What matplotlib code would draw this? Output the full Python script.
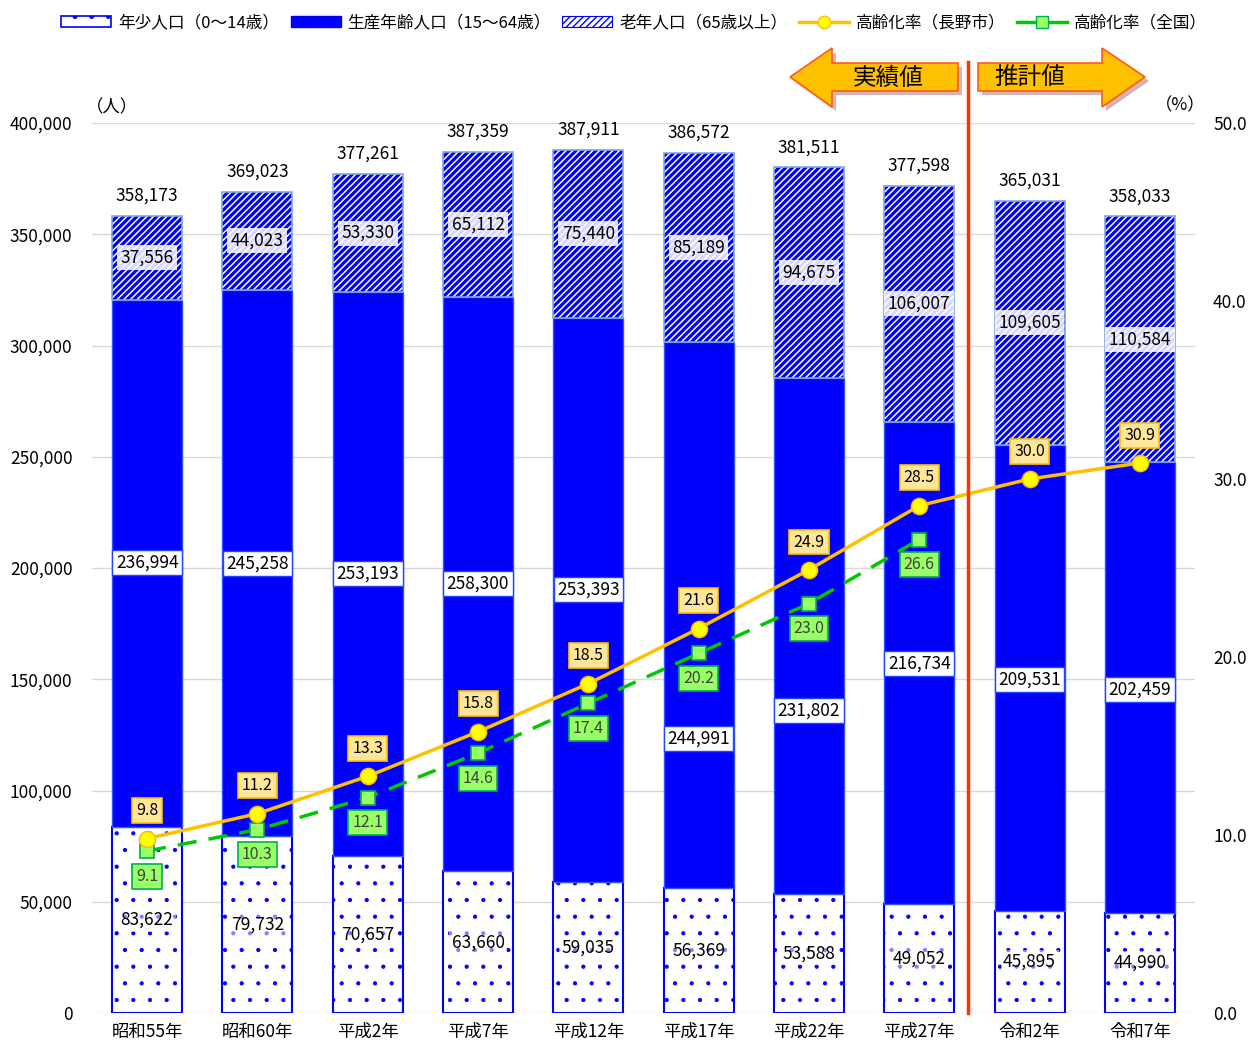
import matplotlib
matplotlib.use('Agg')
import matplotlib.pyplot as plt
from matplotlib.patches import Patch, Polygon
from matplotlib.lines import Line2D
from matplotlib.ticker import FuncFormatter, MultipleLocator

plt.rcParams['font.family'] = ['Noto Sans CJK JP', 'DejaVu Sans']

# data
years = ['昭和55年', '昭和60年', '平成2年', '平成7年', '平成12年',
         '平成17年', '平成22年', '平成27年', '令和2年', '令和7年']
total = [358173, 369023, 377261, 387359, 387911, 386572, 381511, 377598, 365031, 358033]
young = [83622, 79732, 70657, 63660, 59035, 56369, 53588, 49052, 45895, 44990]
working = [236994, 245258, 253193, 258300, 253393, 244991, 231802, 216734, 209531, 202459]
elderly = [37556, 44023, 53330, 65112, 75440, 85189, 94675, 106007, 109605, 110584]
rate_nagano = [9.8, 11.2, 13.3, 15.8, 18.5, 21.6, 24.9, 28.5, 30.0, 30.9]
rate_japan = [9.1, 10.3, 12.1, 14.6, 17.4, 20.2, 23.0, 26.6]

# where the working-age labels sit (moved off the lines in the original)
work_label_y = [202500, 202000, 197500, 193000, 190500, 123500, 136000, 157000, 150000, 145500]

W, H = 1255, 1044
fig = plt.figure(figsize=(W / 100, H / 100), dpi=100)
ax = fig.add_axes([92 / W, 1 - 1013 / H, (1195 - 92) / W, (1013 - 123) / H])
ax2 = ax.twinx()

def px(x, y):
    return (x / W, 1 - y / H)

x = list(range(len(years)))
bw = 0.635
blue = '#0000FF'
fs = 12.5

bottom2 = [a + b for a, b in zip(young, working)]
top = [a + b for a, b in zip(bottom2, elderly)]

with plt.rc_context({'hatch.linewidth': 0.6}):
    ax.bar(x, young, bw, color='white', edgecolor=blue, hatch='.', linewidth=1.5, zorder=2)
ax.bar(x, working, bw, bottom=young, color=blue, edgecolor='#3355FF', linewidth=1, zorder=2)
with plt.rc_context({'hatch.linewidth': 2.3}):
    ax.bar(x, elderly, bw, bottom=bottom2, color='white', edgecolor=blue, hatch='/////',
           linewidth=0, zorder=2)
ax.bar(x, elderly, bw, bottom=bottom2, fill=False, edgecolor='#7FA8E0', linewidth=1.2, zorder=3)

for i in x:
    ax.text(i, young[i] / 2, f'{young[i]:,}', ha='center', va='center', fontsize=fs, zorder=5,
            bbox=dict(boxstyle='square,pad=0.15', fc='white', ec='none', alpha=0.5))
    ax.text(i, work_label_y[i], f'{working[i]:,}', ha='center', va='center', fontsize=fs, zorder=5,
            bbox=dict(boxstyle='square,pad=0.2', fc='white', ec='#2244FF', lw=1))
    ax.text(i, bottom2[i] + elderly[i] / 2, f'{elderly[i]:,}', ha='center', va='center', fontsize=fs,
            zorder=5, bbox=dict(boxstyle='square,pad=0.2', fc='white', ec='none', alpha=0.85))
    ax.annotate(f'{total[i]:,}', (i, top[i]), xytext=(0, 14.5), textcoords='offset points',
                ha='center', va='center', fontsize=fs)

ax.set_xlim(-0.5, len(years) - 0.5)
ax.set_ylim(0, 400000)
ax.yaxis.set_major_locator(MultipleLocator(50000))
ax.yaxis.set_major_formatter(FuncFormatter(lambda v, p: f'{int(v):,}'))
ax.set_xticks(x)
ax.set_xticklabels(years, fontsize=fs)
ax.tick_params(axis='y', length=0, pad=14, labelsize=fs)
ax.tick_params(axis='x', length=0, pad=7)
ax.yaxis.grid(True, color='#D9D9D9', lw=1)
ax.set_axisbelow(True)

# rates
ax2.plot(x, rate_nagano, color='#FFC000', lw=2.5, marker='o', ms=11.5,
         mfc='#FFFF00', mec='#FFC000', mew=1.2, zorder=4)
xj = x[:len(rate_japan)]
ax2.plot(xj, rate_japan, color='#00C800', lw=2.5, ls=(0, (5.5, 3.5)), marker='s', ms=9.5,
         mfc='#99FF66', mec='#00B050', mew=1.2, zorder=3)
for i, r in enumerate(rate_nagano):
    ax2.annotate(f'{r:.1f}', (i, r), xytext=(0, 20), textcoords='offset points', ha='center',
                 va='center', fontsize=fs - 1, zorder=6,
                 bbox=dict(boxstyle='square,pad=0.25', fc='#FFE699', ec='#FFC000', lw=1.2))
for i, r in enumerate(rate_japan):
    ax2.annotate(f'{r:.1f}', (i, r), xytext=(0, -18), textcoords='offset points', ha='center',
                 va='center', fontsize=fs - 1, color='#404040', zorder=6,
                 bbox=dict(boxstyle='square,pad=0.25', fc='#99FF66', ec='#00B050', lw=1.2))
ax2.set_ylim(0, 50)
ax2.yaxis.set_major_locator(MultipleLocator(10))
ax2.yaxis.set_major_formatter(FuncFormatter(lambda v, p: f'{v:.1f}'))
ax2.tick_params(axis='y', length=0, pad=13, labelsize=fs)

for a in (ax, ax2):
    for s in a.spines.values():
        s.set_visible(False)

fig.text(*px(112, 107), '（人）', ha='center', va='center', fontsize=fs)
fig.text(*px(1180, 105), '（%）', ha='center', va='center', fontsize=fs)

# divider between actual and projected
fig.add_artist(Line2D([968 / W, 968 / W], [1 - 62 / H, 1 - 1013 / H], color='#FF3300', lw=2.5))

# arrows
left_arrow = [(790, 77), (832, 48), (832, 63), (958, 63), (958, 91), (832, 91), (832, 107)]
right_arrow = [(1145, 77), (1102, 48), (1102, 63), (978, 63), (978, 91), (1102, 91), (1102, 107)]
for pts, label, cx in [(left_arrow, '実績値', 888), (right_arrow, '推計値', 1030)]:
    shadow = Polygon([px(a + 4, b + 4) for a, b in pts], closed=True, transform=fig.transFigure,
                     fc='#C8A0A0', ec='none', alpha=0.8)
    fig.add_artist(shadow)
    poly = Polygon([px(a, b) for a, b in pts], closed=True, transform=fig.transFigure,
                   fc='#FFC000', ec='#FF5A1E', lw=1.2)
    fig.add_artist(poly)
    fig.text(*px(cx, 78), label, ha='center', va='center', fontsize=17)

# legend
with plt.rc_context({'hatch.linewidth': 0.6}):
    h_young = Patch(facecolor='white', edgecolor=blue, hatch='.', lw=1.2)
with plt.rc_context({'hatch.linewidth': 1.5}):
    h_old = Patch(facecolor='white', edgecolor=blue, hatch='/////', lw=0.8)
handles = [
    h_young,
    Patch(facecolor=blue, edgecolor=blue),
    h_old,
    Line2D([], [], color='#FFC000', lw=2.5, marker='o', ms=9, mfc='#FFFF00', mec='#FFC000'),
    Line2D([], [], color='#00C800', lw=2.5, marker='s', ms=8, mfc='#99FF66', mec='#00B050'),
]
labels = ['年少人口（0〜14歳）', '生産年齢人口（15〜64歳）', '老年人口（65歳以上）',
          '高齢化率（長野市）', '高齢化率（全国）']
fig.legend(handles, labels, loc='center', bbox_to_anchor=px(634, 23), ncol=5, frameon=False,
           fontsize=12, handlelength=3.0, handleheight=0.6, handletextpad=0.4, columnspacing=0.7)

fig.savefig('out.png', dpi=100)
